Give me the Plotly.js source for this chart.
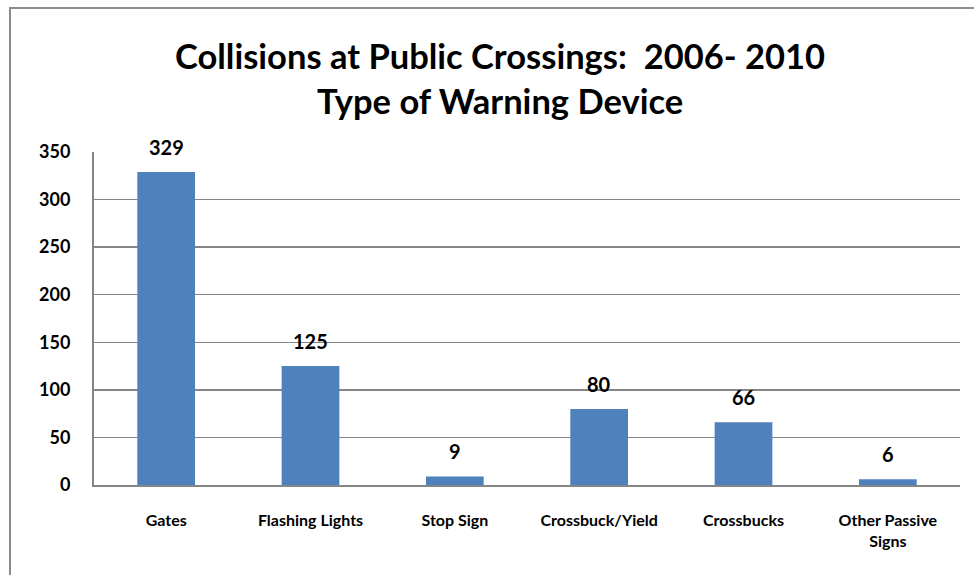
<!DOCTYPE html>
<html><head><meta charset="utf-8">
<script src="https://cdn.plot.ly/plotly-3.0.1.min.js"></script>
<style>
html,body{margin:0;padding:0;background:#fff;}
#frame{position:absolute;left:9px;top:7px;width:980px;height:600px;border-left:2px solid #8c8c8c;border-top:2px solid #8c8c8c;}
#chart{position:absolute;left:0;top:0;width:974px;height:575px;}
</style></head>
<body>
<div id="frame"></div>
<div id="chart"></div>
<script>
const categories = ["Gates","Flashing Lights","Stop Sign","Crossbuck/Yield","Crossbucks","Other Passive<br>Signs"];
const collisions = [329,125,9,80,66,6];
const tickValues = [0,50,100,150,200,250,300,350];
const titleLines = ["Collisions at Public Crossings:  2006- 2010","Type of Warning Device"];

const F = "Lato, 'Open Sans', sans-serif";
const data = [{
  type:'bar', x:categories, y:collisions,
  marker:{color:'#4f81bd'},
  hoverinfo:'none'
}];
const annotations = categories.map((c,i)=>({
  x:c, y:collisions[i], xref:'x', yref:'y', text:String(collisions[i]),
  showarrow:false, yanchor:'bottom', yshift:11,
  font:{family:F, size:20, color:'#000', weight:'bold'}
}));
const titleY = [1.291, 1.156];
titleLines.forEach((t,i)=>annotations.push({
  x:0.469, y:titleY[i], xref:'paper', yref:'paper', text:'<b>'+t+'</b>',
  showarrow:false, xanchor:'center', yanchor:'middle',
  font:{family:F, size:34.5, color:'#000'}
}));
const layout = {
  width:974, height:575,
  paper_bgcolor:'rgba(0,0,0,0)', plot_bgcolor:'rgba(0,0,0,0)',
  margin:{l:94,r:14,t:152,b:90},
  showlegend:false,
  bargap:0.6,
  xaxis:{type:'category', showgrid:false, showline:true, linecolor:'#868686', linewidth:2,
    ticks:'', ticklabelstandoff:20,
    tickfont:{family:F, size:16, color:'#000', weight:'bold'}},
  yaxis:{range:[0,350], tickvals:tickValues, showgrid:true, gridcolor:'#868686', gridwidth:1.5,
    showline:true, linecolor:'#868686', linewidth:2, zeroline:false, ticks:'',
    ticklabelstandoff:18,
    tickfont:{family:F, size:18, color:'#000', weight:'bold'}},
  annotations:annotations
};
Plotly.newPlot('chart', data, layout, {displayModeBar:false, staticPlot:true});
</script>
</body></html>
